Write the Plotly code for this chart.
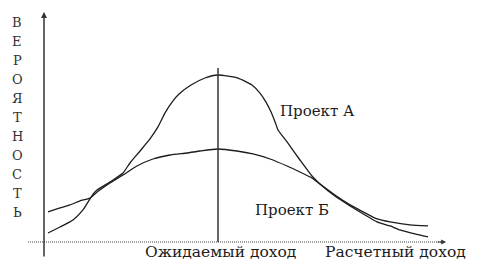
import plotly.graph_objects as go

# ---- data (income as % of expected income, probability as % of Project A peak)
income_a = [2.3, 9.2, 16.7, 22.4, 28.2, 30.5, 37.9, 45.4, 49.4, 55.2, 60.9, 65.5, 69.5, 73.6,
            77.6, 84.5, 92.5, 100, 111.5, 119.5, 124.1, 127.6, 130.5, 132.8, 134.5, 139.7,
            147.1, 154.0, 158.6, 167.2, 175.9, 184.5, 191.4, 198.9, 204.6, 213.2, 220.7]
prob_a = [5.4, 9.0, 13.2, 19.2, 28.7, 31.1, 35.9, 41.3, 47.3, 54.5, 61.7, 68.9, 77.2, 83.8,
          88.6, 94.0, 98.2, 100, 98.2, 94.0, 89.2, 83.8, 77.8, 71.9, 67.1, 59.9,
          49.1, 39.5, 34.7, 27.5, 21.6, 16.2, 12.0, 9.6, 7.2, 4.8, 3.0]

income_b = [2.3, 9.2, 14.9, 20.7, 26.4, 30.5, 37.9, 45.4, 53.4, 62.6, 72.4, 82.2, 89.7, 100,
            110.9, 120.1, 129.9, 139.7, 147.1, 154.0, 158.6, 167.2, 175.9, 184.5, 191.4,
            198.9, 210.3, 220.7]
prob_b = [18.0, 20.4, 22.2, 24.6, 26.3, 29.9, 35.3, 40.1, 45.5, 49.7, 52.1, 53.3, 54.5, 55.7,
          54.5, 52.7, 49.7, 45.5, 41.9, 38.3, 34.7, 28.1, 22.2, 17.4, 13.8,
          12.0, 10.2, 9.6]

expected_income = 100
axis_letters = list("ВЕРОЯТНОСТЬ")
label_expected = "Ожидаемый доход"
label_calc = "Расчетный доход"
label_a = "Проект А"
label_b = "Проект Б"

# ---- layout helpers (pixel -> axis units)
W, H = 487, 264
X0, XS = 44, 1.74   # pixel of income 0, pixels per unit
Y0, YS = 242, 1.67  # pixel of prob 0, pixels per unit
def ux(px): return (px - X0) / XS
def uy(py): return (Y0 - py) / YS

FONT = "DejaVu Serif"
INK = "#1c1c1c"

fig = go.Figure()
for xs, ys in ((income_a, prob_a), (income_b, prob_b)):
    fig.add_trace(go.Scatter(x=xs, y=ys, mode="lines",
                             line=dict(color=INK, width=1.3, shape="spline", smoothing=0.5),
                             hoverinfo="skip", showlegend=False))

shapes = [
    dict(type="line", xref="x", yref="y", x0=ux(28), x1=ux(444), y0=0, y1=0,
         line=dict(color="#444", width=1, dash="1px,1px")),
    dict(type="line", xref="x", yref="y", x0=expected_income, x1=expected_income,
         y0=0, y1=uy(68), line=dict(color="#333", width=1.5)),
]

annotations = [
    # y axis with arrow
    dict(x=0, y=uy(12), ax=0, ay=uy(258), xref="x", yref="y", axref="x", ayref="y",
         showarrow=True, arrowhead=2, arrowsize=0.8, arrowwidth=1.5, arrowcolor="#333", text=""),
    # x axis arrow head
    dict(x=ux(446), y=0, ax=ux(436), ay=0, xref="x", yref="y", axref="x", ayref="y",
         showarrow=True, arrowhead=2, arrowsize=0.8, arrowwidth=1.2, arrowcolor="#333", text=""),
    dict(x=ux(220), y=uy(252), text=label_expected, showarrow=False, xanchor="center",
         yanchor="middle", font=dict(family=FONT, size=15.5, color=INK)),
    dict(x=ux(395), y=uy(252), text=label_calc, showarrow=False, xanchor="center",
         yanchor="middle", font=dict(family=FONT, size=15.5, color=INK)),
    dict(x=ux(278), y=uy(111), text=label_a, showarrow=False, xanchor="left",
         yanchor="middle", font=dict(family=FONT, size=15, color=INK)),
    dict(x=ux(253), y=uy(210), text=label_b, showarrow=False, xanchor="left",
         yanchor="middle", font=dict(family=FONT, size=15, color=INK)),
]
for i, ch in enumerate(axis_letters):
    annotations.append(dict(x=ux(17), y=uy(22 + 19 * i), text=ch, showarrow=False,
                            xanchor="center", yanchor="middle",
                            font=dict(family=FONT, size=13, color="#333")))

fig.update_layout(
    width=W, height=H, margin=dict(l=0, r=0, t=0, b=0),
    paper_bgcolor="white", plot_bgcolor="white",
    xaxis=dict(range=[ux(0), ux(W)], visible=False, fixedrange=True),
    yaxis=dict(range=[uy(H), uy(0)], visible=False, fixedrange=True),
    shapes=shapes, annotations=annotations, showlegend=False,
)
fig.write_html("out.html")
